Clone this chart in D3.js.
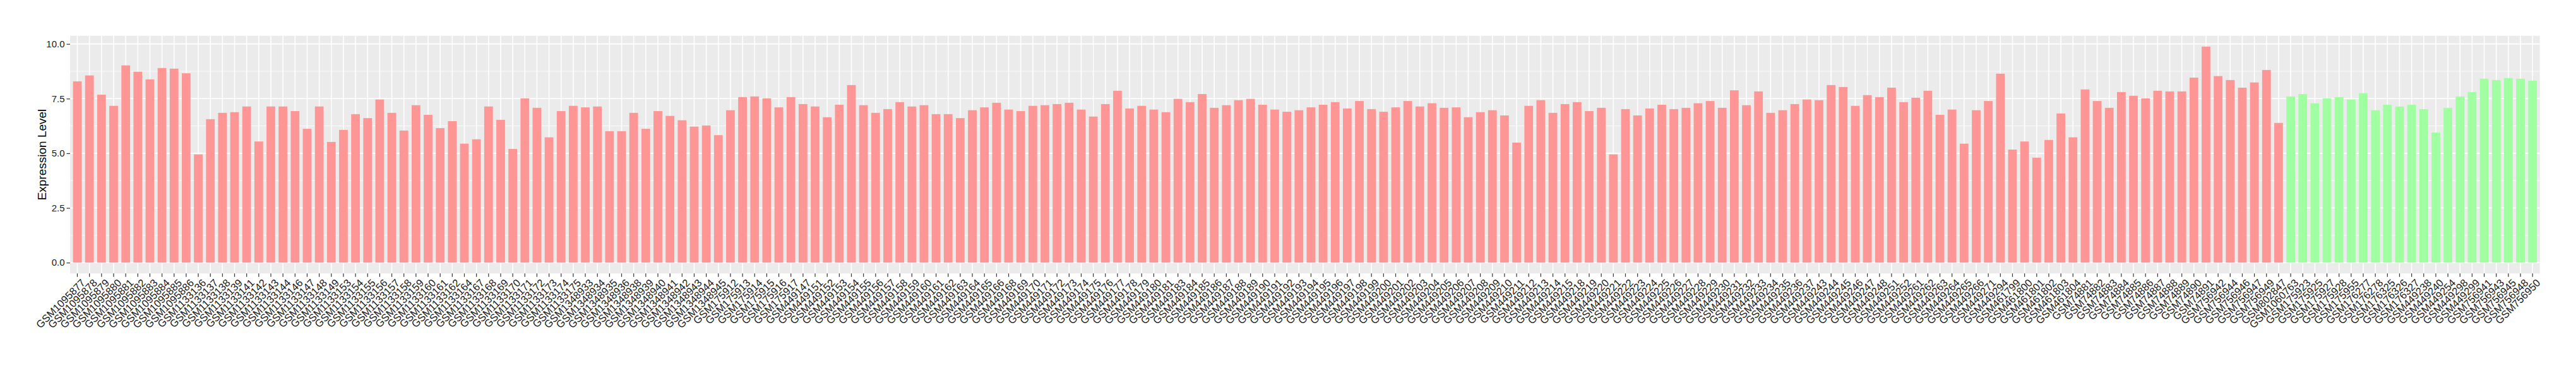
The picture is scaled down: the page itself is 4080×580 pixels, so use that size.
<!DOCTYPE html>
<html>
<head>
<meta charset="utf-8">
<script src="https://cdn.jsdelivr.net/npm/d3@7"></script>
<style>
  body { margin: 0; background: #fff; }
  svg text { font-family: "Liberation Sans", Arial, Helvetica, sans-serif; }
</style>
</head>
<body>
<div id="chart"></div>
<script>
/* samples of the first group (red bars) */
const redSamples = [
  "GSM1095877","GSM1095878","GSM1095879","GSM1095880","GSM1095881","GSM1095882","GSM1095883","GSM1095884","GSM1095885","GSM1095886",
  "GSM1133136","GSM1133137","GSM1133138","GSM1133139","GSM1133141","GSM1133142","GSM1133143","GSM1133144","GSM1133146","GSM1133147",
  "GSM1133148","GSM1133149","GSM1133153","GSM1133154","GSM1133155","GSM1133156","GSM1133157","GSM1133158","GSM1133159","GSM1133160",
  "GSM1133161","GSM1133162","GSM1133164","GSM1133167","GSM1133168","GSM1133169","GSM1133170","GSM1133171","GSM1133172","GSM1133173",
  "GSM1133174","GSM1133175","GSM1348933","GSM1348934","GSM1348935","GSM1348936","GSM1348938","GSM1348939","GSM1348940","GSM1348941",
  "GSM1348942","GSM1348943","GSM1348944","GSM1348945","GSM175912","GSM175913","GSM175914","GSM175915","GSM175916","GSM175917",
  "GSM449147","GSM449151","GSM449152","GSM449153","GSM449154","GSM449155","GSM449156","GSM449157","GSM449158","GSM449159",
  "GSM449160","GSM449161","GSM449162","GSM449163","GSM449164","GSM449165","GSM449166","GSM449168","GSM449169","GSM449170",
  "GSM449171","GSM449172","GSM449173","GSM449174","GSM449175","GSM449176","GSM449177","GSM449178","GSM449179","GSM449180",
  "GSM449181","GSM449183","GSM449184","GSM449185","GSM449186","GSM449187","GSM449188","GSM449189","GSM449190","GSM449191",
  "GSM449192","GSM449193","GSM449194","GSM449195","GSM449196","GSM449197","GSM449198","GSM449199","GSM449200","GSM449201",
  "GSM449202","GSM449203","GSM449204","GSM449205","GSM449206","GSM449207","GSM449208","GSM449209","GSM449210","GSM449211",
  "GSM449212","GSM449213","GSM449214","GSM449215","GSM449218","GSM449219","GSM449220","GSM449221","GSM449222","GSM449223",
  "GSM449224","GSM449225","GSM449226","GSM449227","GSM449228","GSM449229","GSM449230","GSM449231","GSM449232","GSM449233",
  "GSM449234","GSM449235","GSM449236","GSM449237","GSM449243","GSM449244","GSM449245","GSM449246","GSM449247","GSM449248",
  "GSM449251","GSM449252","GSM449261","GSM449262","GSM449263","GSM449264","GSM449265","GSM449266","GSM449271","GSM449294",
  "GSM461799","GSM461800","GSM461801","GSM461802","GSM461803","GSM461804","GSM74881","GSM74882","GSM74883","GSM74884",
  "GSM74885","GSM74886","GSM74887","GSM74888","GSM74889","GSM74890","GSM74891","GSM756942","GSM756944","GSM756946",
  "GSM756947","GSM756949","GSM802847"
];
const redValues = [
  8.29,8.56,7.68,7.17,9.02,8.73,8.38,8.90,8.87,8.66,
  4.95,6.56,6.85,6.88,7.14,5.54,7.14,7.14,6.93,6.12,
  7.14,5.52,6.07,6.79,6.61,7.46,6.85,6.04,7.20,6.76,
  6.15,6.47,5.44,5.64,7.14,6.53,5.20,7.51,7.08,5.73,
  6.93,7.17,7.10,7.14,6.01,6.01,6.85,6.12,6.93,6.71,
  6.51,6.22,6.27,5.83,6.97,7.57,7.60,7.51,7.10,7.57,
  7.25,7.14,6.65,7.22,8.12,7.20,6.85,7.02,7.34,7.14,
  7.20,6.79,6.79,6.61,6.97,7.10,7.31,7.00,6.93,7.17,
  7.20,7.25,7.31,7.00,6.68,7.25,7.86,7.05,7.17,7.00,
  6.88,7.49,7.34,7.71,7.08,7.20,7.43,7.49,7.22,7.00,
  6.90,6.97,7.10,7.22,7.34,7.05,7.39,7.02,6.90,7.10,
  7.39,7.14,7.29,7.08,7.10,6.65,6.88,6.97,6.73,5.49,
  7.17,7.43,6.85,7.25,7.34,6.93,7.08,4.95,7.02,6.73,
  7.05,7.22,7.02,7.08,7.29,7.39,7.08,7.88,7.20,7.83,
  6.85,6.97,7.25,7.46,7.43,8.12,8.03,7.17,7.66,7.57,
  8.00,7.34,7.54,7.86,6.76,7.00,5.44,6.97,7.39,8.64,
  5.17,5.54,4.80,5.61,6.82,5.73,7.92,7.39,7.08,7.80,
  7.63,7.51,7.86,7.83,7.83,8.46,9.88,8.53,8.35,8.00,
  8.24,8.81,6.39
];

/* samples of the second group (green bars) */
const greenSamples = [
  "GSM1060763","GSM175923","GSM175925","GSM175927","GSM175928","GSM175955","GSM176277","GSM176278","GSM176325","GSM176326",
  "GSM176327","GSM449238","GSM449240","GSM449254","GSM449298","GSM449299","GSM756941","GSM756943","GSM756945","GSM756948",
  "GSM756950"
];
const greenValues = [
  7.60,7.71,7.29,7.51,7.57,7.46,7.75,6.97,7.22,7.14,
  7.22,7.02,5.95,7.08,7.60,7.80,8.41,8.35,8.44,8.41,
  8.32
];

const yTicks = [0, 2.5, 5, 7.5, 10];
const yMinorTicks = [1.25, 3.75, 6.25, 8.75];

const W = 4080, H = 580;
const panel = { left: 111, right: 4022.7, top: 56.7, bottom: 433.3 };

const data = redSamples.map((s, i) => ({ id: s, value: redValues[i], group: "red" }))
  .concat(greenSamples.map((s, i) => ({ id: s, value: greenValues[i], group: "green" })));

const fills = { red: "#ff9696", green: "#a0ffa0" };

const svg = d3.select("#chart").append("svg")
  .attr("width", W)
  .attr("height", H);

/* ggplot-like discrete x: 0.6 step of room on each side */
const x = d3.scaleBand()
  .domain(data.map(d => d.id))
  .range([panel.left, panel.right])
  .paddingInner(0.28)
  .paddingOuter(0.24);

const yMax = d3.max(data, d => d.value);
const pad = yMax * 0.05;
const y = d3.scaleLinear()
  .domain([-pad, yMax + pad])
  .range([panel.bottom, panel.top]);

/* panel background */
svg.append("rect")
  .attr("x", panel.left)
  .attr("y", panel.top)
  .attr("width", panel.right - panel.left)
  .attr("height", panel.bottom - panel.top)
  .attr("fill", "#ebebeb");

/* grid */
const grid = svg.append("g");
grid.selectAll("line.minor").data(yMinorTicks).enter()
  .append("line")
  .attr("class", "minor")
  .attr("x1", panel.left).attr("x2", panel.right)
  .attr("y1", d => y(d)).attr("y2", d => y(d))
  .attr("stroke", "#fff").attr("stroke-width", 0.8);
grid.selectAll("line.hmajor").data(yTicks).enter()
  .append("line")
  .attr("class", "hmajor")
  .attr("x1", panel.left).attr("x2", panel.right)
  .attr("y1", d => y(d)).attr("y2", d => y(d))
  .attr("stroke", "#fff").attr("stroke-width", 1.6);
grid.selectAll("line.vmajor").data(data).enter()
  .append("line")
  .attr("class", "vmajor")
  .attr("x1", d => x(d.id) + x.bandwidth() / 2)
  .attr("x2", d => x(d.id) + x.bandwidth() / 2)
  .attr("y1", panel.top).attr("y2", panel.bottom)
  .attr("stroke", "#fff").attr("stroke-width", 1.6);

/* bars */
svg.append("g").selectAll("rect").data(data).enter()
  .append("rect")
  .attr("x", d => x(d.id))
  .attr("width", x.bandwidth())
  .attr("y", d => y(d.value))
  .attr("height", d => y(0) - y(d.value))
  .attr("fill", d => fills[d.group]);

/* y axis */
const yAxis = d3.axisLeft(y)
  .tickValues(yTicks)
  .tickSize(5.5)
  .tickPadding(3)
  .tickFormat(d3.format(".1f"));
const yAxisG = svg.append("g")
  .attr("transform", `translate(${panel.left},0)`)
  .call(yAxis);
yAxisG.select(".domain").remove();
yAxisG.selectAll(".tick line").attr("stroke", "#333").attr("stroke-width", 1.2);
yAxisG.selectAll(".tick text")
  .attr("fill", "#1a1a1a")
  .style("font-size", "15px");

/* x axis */
const xAxis = d3.axisBottom(x)
  .tickSize(5.5)
  .tickPadding(0);
const xAxisG = svg.append("g")
  .attr("transform", `translate(0,${panel.bottom})`)
  .call(xAxis);
xAxisG.select(".domain").remove();
xAxisG.selectAll(".tick line").attr("stroke", "#333").attr("stroke-width", 1.2);
xAxisG.selectAll(".tick text")
  .attr("fill", "#1a1a1a")
  .style("font-size", "16.5px")
  .attr("text-anchor", "end")
  .attr("x", 0).attr("y", 0).attr("dy", "0.72em")
  .attr("transform", "translate(5,7.5) rotate(-45)");

/* axis title */
svg.append("text")
  .attr("transform", `translate(66,${(panel.top + panel.bottom) / 2}) rotate(-90)`)
  .attr("text-anchor", "middle")
  .attr("dy", "0.35em")
  .style("font-size", "19px")
  .attr("fill", "#000")
  .text("Expression Level");
</script>
</body>
</html>
